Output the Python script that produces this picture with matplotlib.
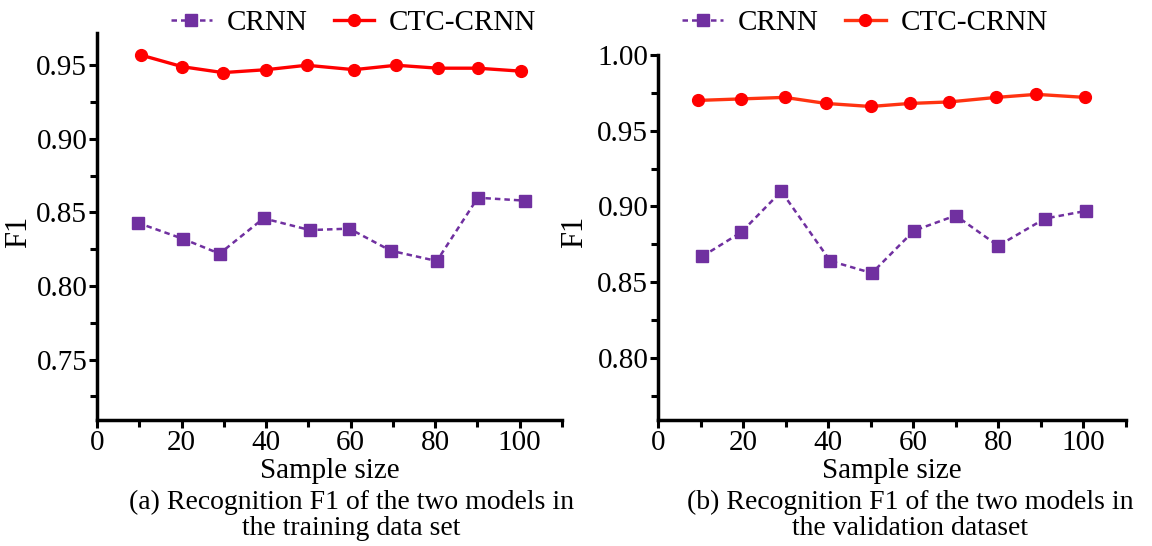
import numpy as np
import matplotlib
matplotlib.use("Agg")
import matplotlib.pyplot as plt
from matplotlib.ticker import MultipleLocator, FormatStrFormatter

plt.rcParams['font.family'] = ['Liberation Serif', 'DejaVu Serif']

# (a) training data set
x_crnn_a = [9.6, 20.4, 29.0, 39.4, 50.4, 59.7, 69.5, 80.4, 90.1, 101.3]
f1_crnn_a = [0.843, 0.832, 0.822, 0.846, 0.838, 0.839, 0.824, 0.817, 0.860, 0.858]
x_ctc_a = [10.3, 20.2, 29.8, 40.1, 49.6, 60.8, 70.8, 80.7, 90.1, 100.2]
f1_ctc_a = [0.957, 0.949, 0.945, 0.947, 0.950, 0.947, 0.950, 0.948, 0.948, 0.946]

# (b) validation dataset
x_crnn_b = [10.4, 19.6, 29.0, 40.5, 50.3, 60.2, 70.0, 80.0, 91.0, 100.6]
f1_crnn_b = [0.867, 0.883, 0.910, 0.864, 0.856, 0.884, 0.894, 0.874, 0.892, 0.897]
x_ctc_b = [9.4, 19.6, 29.8, 39.5, 50.0, 59.3, 68.5, 79.6, 89.0, 100.4]
f1_ctc_b = [0.970, 0.971, 0.972, 0.968, 0.966, 0.968, 0.969, 0.972, 0.974, 0.972]

captions = ["(a) Recognition F1 of the two models in\nthe training data set",
            "(b) Recognition F1 of the two models in\nthe validation dataset"]

fig = plt.figure(figsize=(11.52, 5.46), dpi=100)
ax1 = fig.add_axes([0.0842, 0.2308, 0.4036, 0.709])
ax2 = fig.add_axes([0.5712, 0.2308, 0.406, 0.6685])

purple = '#7030A0'

panels = [
    (ax1, x_crnn_a, f1_crnn_a, x_ctc_a, f1_ctc_a, (0.709, 0.972), '#FF0000', 0.307, 0.305, (-0.138, 0.486)),
    (ax2, x_crnn_b, f1_crnn_b, x_ctc_b, f1_ctc_b, (0.759, 1.0), '#FF3311', 0.751, 0.790, (-0.147, 0.515)),
]

for i, (ax, xc, yc, xt, yt, ylim, ctc_col, leg_x, cap_x, ylab_xy) in enumerate(panels):
    ax.plot(xc, yc, color=purple, linestyle=(0, (2.2, 1.6)), linewidth=1.8,
            marker='s', markersize=9, markerfacecolor=purple, markeredgecolor=purple,
            label='CRNN')
    ax.plot(xt, yt, color=ctc_col, linestyle='-', linewidth=2.4,
            marker='o', markersize=8.5, markerfacecolor='#FF0000', markeredgecolor='#FF0000',
            label='CTC-CRNN')
    ax.set_xlim(0, 110)
    ax.set_ylim(*ylim)
    ax.xaxis.set_major_locator(MultipleLocator(20))
    ax.xaxis.set_minor_locator(MultipleLocator(10))
    ax.yaxis.set_major_locator(MultipleLocator(0.05))
    ax.yaxis.set_minor_locator(MultipleLocator(0.025))
    ax.yaxis.set_major_formatter(FormatStrFormatter('%.2f'))
    for s in ['top', 'right']:
        ax.spines[s].set_visible(False)
    for s in ['left', 'bottom']:
        ax.spines[s].set_linewidth(2.5)
    ax.tick_params(which='major', direction='out', length=6, width=2.2, labelsize=21, pad=1)
    ax.tick_params(which='minor', direction='out', length=5, width=2.2)
    ax.set_ylabel('F1', fontsize=22)
    ax.yaxis.set_label_coords(*ylab_xy)
    ax.set_xlabel('Sample size', fontsize=21, labelpad=2)
    ax.legend(loc='center', bbox_to_anchor=(leg_x, 0.958), bbox_transform=fig.transFigure,
              ncol=2, frameon=False, fontsize=21, handlelength=1.4,
              columnspacing=0.9, handletextpad=0.5, borderaxespad=0.0)
    fig.text(cap_x, 0.056, captions[i], ha='center', va='center',
             fontsize=20, linespacing=1.08)

fig.savefig('out.png', dpi=100)
